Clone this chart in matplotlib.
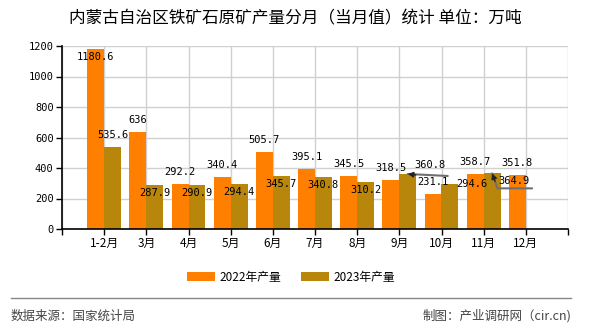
import matplotlib
matplotlib.use("Agg")
import matplotlib.pyplot as plt
import numpy as np

plt.rcParams['font.family'] = ['Noto Sans CJK SC', 'DejaVu Sans']

# data
months = ['1-2月', '3月', '4月', '5月', '6月', '7月', '8月', '9月', '10月', '11月', '12月']
v2022 = [1180.6, 636, 292.2, 340.4, 505.7, 395.1, 345.5, 318.5, 231.1, 358.7, 351.8]
v2023 = [535.6, 287.9, 290.9, 294.4, 345.7, 340.8, 310.2, 360.8, 294.6, 364.9]
yticks = [0, 200, 400, 600, 800, 1000, 1200]

# label offsets (pixels, from bar top centre)
off2022 = [(0, -8)] + [(0, 12)] * 10
off2023 = [(0, 12), (0, -8), (0, -8), (0, -8), (0, -8), (0, -8), (0, -8), (22, 9), (22, 0), (22, -8)]

C22 = '#FF8000'
C23 = '#B8860B'
W = 0.4

fig = plt.figure(figsize=(5.9, 3.3), dpi=100)
ax = fig.add_axes([62/590, 1-229/330, (568-62)/590, (229-46)/330])

x22 = np.arange(len(v2022))
x23 = np.arange(len(v2023))
ax.bar(x22 - W/2, v2022, W, color=C22, zorder=2, label='2022年产量')
ax.bar(x23 + W/2, v2023, W, color=C23, zorder=2, label='2023年产量')

ax.set_xlim(-1, 11)
ax.set_ylim(0, 1200)
ax.set_yticks(yticks)
ax.set_yticklabels([str(t) for t in yticks], family='DejaVu Sans Mono', fontsize=7.5)
ax.set_xticks(np.arange(-1, 12))
ax.set_xticklabels([''] + months + [''], fontsize=8.5)
ax.tick_params(axis='both', length=4, width=1, color='black', pad=2)
ax.grid(True, color='#d0d0d0', linewidth=1, zorder=0)
ax.set_axisbelow(True)
for s in ['top', 'right']:
    ax.spines[s].set_visible(False)
ax.spines['left'].set_linewidth(1.2)
ax.spines['bottom'].set_linewidth(1.2)

mono = dict(family='DejaVu Sans Mono', fontsize=7.5, ha='center', va='center', zorder=4)
for i, v in enumerate(v2022):
    ax.annotate(f'{v:g}', (i - W/2, v), xytext=off2022[i], textcoords='offset pixels', **mono)
for i, v in enumerate(v2023):
    ax.annotate(f'{v:g}', (i + W/2, v), xytext=off2023[i], textcoords='offset pixels', **mono)

# leader lines for the shifted 9月 / 11月 labels, with a dark head on top
lead = dict(arrowstyle='-', color='#707070', lw=1.5, shrinkA=0, shrinkB=0)
head = dict(arrowstyle='-|>', color='#222222', lw=1, mutation_scale=8, shrinkA=0, shrinkB=0)
ax.annotate('', (7 + W/2, v2023[7]), xytext=(40, -2), textcoords='offset pixels',
            arrowprops=lead, zorder=3)
ax.annotate('', (7 + W/2, v2023[7]), xytext=(8, -1), textcoords='offset pixels',
            arrowprops=head, zorder=3)
ax.annotate('', (9 + W/2, v2023[9]), xytext=(40, -15), textcoords='offset pixels',
            arrowprops=dict(lead, connectionstyle='angle,angleA=180,angleB=110,rad=0'), zorder=3)
ax.annotate('', (9 + W/2, v2023[9]), xytext=(3, -8), textcoords='offset pixels',
            arrowprops=head, zorder=3)

fig.text(0.5, 1-19/330, '内蒙古自治区铁矿石原矿产量分月（当月值）统计 单位：万吨',
         ha='center', va='center', fontsize=12)

fig.legend(loc='center', bbox_to_anchor=(291/590, 1-277/330), ncol=2, frameon=False,
           fontsize=8.5, handlelength=2.4, handleheight=0.8, columnspacing=1.6, handletextpad=0.4)

fig.add_artist(plt.Line2D([11/590, 571/590], [1-298/330, 1-298/330], color='#888888', lw=1))
fig.text(11/590, 1-316/330, '数据来源：国家统计局', ha='left', va='center', fontsize=9, color='#444444')
fig.text(571/590, 1-316/330, '制图：产业调研网（cir.cn)', ha='right', va='center', fontsize=9, color='#444444')

fig.savefig('out.png', dpi=100)
